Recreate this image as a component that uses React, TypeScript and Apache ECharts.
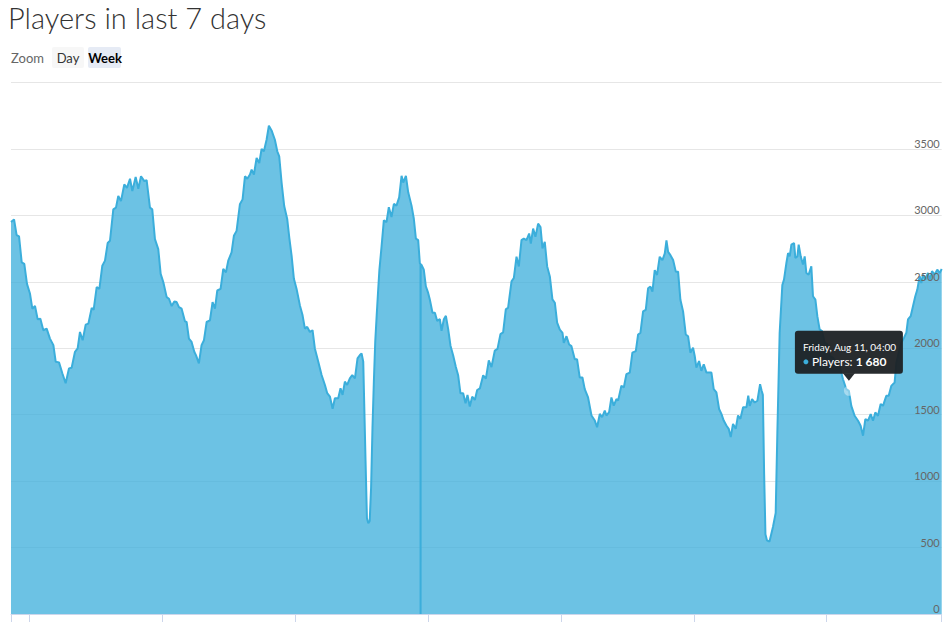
import React, { useEffect, useRef } from "react";
import * as echarts from "echarts";

// ---- data ----
// readings: minutes after Fri/Sat midnight, Aug 5 2023 00:00 (UTC), and player counts
const base = Date.UTC(2023, 7, 5, 0, 0);
const MIN = 60 * 1000;
const axisStartMin = -195; // Aug 4 20:45
const axisEndMin = 9885; // Aug 11 20:45

const minutes: number[] = [
  -195, -162, -134, -108, -79, -51, -22, 11, 36, 65, 94, 123, 155, 191, 227, 264, 289, 325, 361, 397,
  433, 462, 498, 527, 552, 581, 614, 643, 679, 700, 733, 762, 794, 823, 852, 877, 913, 942, 967, 996,
  1032, 1061, 1094, 1119, 1155, 1184, 1213, 1249, 1274, 1310, 1335, 1364, 1400, 1426, 1455, 1491, 1516, 1545, 1574, 1599,
  1624, 1653, 1689, 1707, 1732, 1761, 1790,
  1808, 1840, 1869, 1895, 1924, 1960, 1988, 2014, 2039, 2075, 2104, 2133, 2158, 2194, 2219, 2248, 2284, 2313, 2339, 2364,
  2393, 2411, 2436, 2465, 2494, 2519, 2544, 2573, 2598, 2627, 2663, 2689, 2710, 2736, 2764, 2797, 2819, 2844, 2869, 2898,
  2934, 2963, 2988, 3013, 3042, 3071, 3096, 3133, 3169, 3205, 3230, 3259, 3288, 3313, 3349, 3374, 3396, 3421, 3446, 3475,
  3501, 3530, 3558, 3584, 3602, 3620,
  3645, 3660, 3675, 3690, 3705, 3720, 3735, 3750, 3765, 3780, 3795,
  3818, 3843, 3872, 3897, 3926, 3952, 3980, 4009, 4035, 4053, 4082, 4107, 4143, 4168, 4190, 4215, 4233, 4240, 4241, 4242,
  4251, 4276, 4298, 4323, 4341, 4370, 4396, 4421, 4450, 4468, 4493, 4515, 4540, 4565, 4594, 4623, 4648, 4673, 4702, 4728,
  4749, 4774, 4800, 4829, 4854, 4883, 4919, 4948, 4980, 5009, 5045, 5074, 5106, 5135, 5164, 5189, 5226, 5251, 5280, 5305,
  5334, 5359, 5388, 5417, 5435, 5460, 5485, 5514, 5540, 5561, 5586, 5612, 5641, 5669, 5695, 5720,
  5749, 5778, 5792, 5821, 5850, 5875, 5911, 5936, 5965, 5994, 6019, 6055, 6092, 6128, 6153, 6182, 6207, 6236, 6254, 6283,
  6308, 6333, 6362, 6380, 6416, 6442, 6470, 6507, 6535, 6572, 6597, 6622, 6651, 6680, 6705, 6730, 6752, 6777, 6802, 6831,
  6860, 6886, 6904, 6922, 6947, 6976, 7005, 7030, 7055, 7084, 7113, 7138, 7163, 7192, 7210, 7228, 7257, 7282, 7308, 7337,
  7365, 7391, 7416, 7445, 7474, 7499, 7524, 7553, 7578, 7600, 7625, 7654, 7679, 7705, 7734, 7770, 7790,
  7806, 7831, 7860, 7889, 7918, 7935, 7948, 7962, 7976, 7992, 8020, 8058, 8087, 8105, 8130, 8159, 8177, 8203, 8221, 8239,
  8257, 8286, 8300, 8322, 8336, 8358, 8383, 8401, 8419, 8444, 8473, 8491, 8517, 8538, 8563, 8589, 8618, 8646, 8672, 8708,
  8744, 8780, 8816, 8852, 8880, 8906, 8942, 8979, 9007, 9033, 9058, 9087, 9116, 9141, 9166, 9195, 9224, 9249, 9285, 9311,
  9339, 9375, 9394, 9419, 9448, 9477, 9502, 9520, 9549, 9574, 9599, 9621, 9646, 9664, 9682, 9708, 9736, 9758, 9780, 9809,
  9837, 9863, 9885,
];

const counts: number[] = [
  2950, 2970, 2852, 2842, 2647, 2635, 2485, 2410, 2298, 2318, 2218, 2223, 2136, 2148, 2073, 2024, 1899, 1894, 1812, 1737,
  1849, 1854, 1974, 1999, 2123, 2061, 2178, 2186, 2303, 2290, 2460, 2447, 2622, 2660, 2792, 2809, 3046, 3059, 3146, 3108,
  3233, 3208, 3276, 3183, 3290, 3201, 3295, 3258, 3266, 3059, 3046, 2822, 2747, 2560, 2497, 2385, 2373, 2318, 2353, 2348,
  2310, 2298, 2203, 2198, 2073, 2048, 1974,
  1949, 1886, 2024, 2061, 2198, 2211, 2348, 2298, 2435, 2447, 2597, 2572, 2660, 2722, 2847, 2884, 3084, 3121, 3295, 3276,
  3308, 3345, 3308, 3433, 3395, 3500, 3483, 3570, 3675, 3640, 3570, 3483, 3445, 3246, 3071, 2971, 2834, 2697, 2523, 2447,
  2323, 2248, 2148, 2161, 2123, 2136, 1999, 1899, 1799, 1724, 1662, 1637, 1545, 1624, 1624, 1699, 1649, 1749, 1724, 1774,
  1799, 1774, 1924, 1949, 1961, 1900,
  1150, 720, 683, 700, 950, 1400, 1750, 2050, 2240, 2420, 2590,
  2764, 2963, 2950, 3062, 2988, 3087, 3074, 3136, 3298, 3248, 3298, 3174, 3074, 2975, 2826, 2814, 2640, 2635, 0, 2632,
  2628, 2591, 2467, 2417, 2368, 2268, 2268, 2206, 2219, 2132, 2219, 2244, 2144, 2020, 1946, 1859, 1797, 1661, 1661, 1586,
  1648, 1562, 1636, 1611, 1686, 1698, 1797, 1772, 1909, 1859, 1983, 1996, 2107, 2120, 2293, 2306, 2504, 2529, 2690, 2616,
  2814, 2826, 2814, 2864, 2789, 2901, 2839, 2938, 2913, 2752, 2802, 2616, 2541, 2368, 2343, 2194,
  2140, 2116, 2041, 2091, 2029, 2016, 1917, 1917, 1780, 1780, 1693, 1630, 1494, 1456, 1406, 1506, 1481, 1531, 1494, 1519,
  1630, 1568, 1618, 1606, 1718, 1705, 1805, 1817, 1967, 1979, 2104, 2116, 2278, 2290, 2452, 2465, 2427, 2589, 2552, 2689,
  2664, 2714, 2813, 2726, 2701, 2664, 2577, 2577, 2365, 2278, 2104, 2091, 1967, 2004, 1942, 1855, 1904, 1830, 1880, 1817,
  1817, 1817, 1693, 1668, 1543, 1506, 1456, 1419, 1394, 1332, 1431, 1394, 1494, 1469, 1556, 1556, 1643,
  1567, 1617, 1592, 1605, 1730, 1680, 1650, 1050, 600, 555, 545, 657, 760, 1362, 2115, 2476, 2517, 2642, 2717, 2692,
  2780, 2792, 2680, 2692, 2780, 2692, 2630, 2692, 2567, 2555, 2617, 2392, 2367, 2242, 2142, 2130, 2042, 2030, 1942, 1930,
  1892, 1867, 1767, 1692, 1680, 1567, 1492, 1455, 1417, 1342, 1467, 1455, 1505, 1455, 1517, 1492, 1580, 1567, 1642, 1642,
  1717, 1742, 1892, 1967, 2042, 2080, 2117, 2217, 2242, 2317, 2392, 2442, 2542, 2492, 2555, 2517, 2567, 2517, 2580, 2555,
  2592, 2567, 2597,
];

const yTicks: number[] = [0, 500, 1000, 1500, 2000, 2500, 3000, 3500, 4000];

const tipMinute = 8880; // Friday, Aug 11, 04:00
const tipValue = 1680;

const seriesColor = "#3baedb";
const FONT = "Lato, 'Noto Sans', sans-serif";

const WEEKDAYS = ["Sunday", "Monday", "Tuesday", "Wednesday", "Thursday", "Friday", "Saturday"];
const MONTHS = ["Jan", "Feb", "Mar", "Apr", "May", "Jun", "Jul", "Aug", "Sep", "Oct", "Nov", "Dec"];

function fmtDate(t: number) {
  const d = new Date(t);
  const hh = String(d.getUTCHours()).padStart(2, "0");
  const mm = String(d.getUTCMinutes()).padStart(2, "0");
  return `${WEEKDAYS[d.getUTCDay()]}, ${MONTHS[d.getUTCMonth()]} ${d.getUTCDate()}, ${hh}:${mm}`;
}
function fmtNum(v: number) {
  return String(v).replace(/\B(?=(\d{3})+(?!\d))/g, " ");
}

export default function App() {
  const ref = useRef<HTMLDivElement>(null);

  useEffect(() => {
    document.body.style.margin = "0";
    document.body.style.overflow = "hidden";
    const el = ref.current!;
    const chart = echarts.init(el, undefined, { renderer: "svg" });

    const n = Math.min(minutes.length, counts.length);
    const data: [number, number][] = [];
    for (let i = 0; i < n; i++) data.push([base + minutes[i] * MIN, counts[i]]);
    data.sort((a, b) => a[0] - b[0]);

    const yBase = {
      type: "value",
      position: "right",
      min: yTicks[0],
      max: yTicks[yTicks.length - 1],
      interval: 500,
      axisLine: { show: false },
      axisTick: { show: false },
    };

    chart.setOption({
      animation: false,
      useUTC: true,
      grid: { left: 11, right: 8.3, top: 82.6, bottom: 8, containLabel: false },
      xAxis: {
        type: "time",
        min: base + axisStartMin * MIN,
        max: base + axisEndMin * MIN,
        minInterval: 24 * 60 * MIN,
        maxInterval: 24 * 60 * MIN,
        axisLine: { show: true, lineStyle: { color: "#ccd6eb", width: 1 } },
        axisTick: { show: true, length: 10, lineStyle: { color: "#ccd6eb" } },
        axisLabel: { show: false },
        splitLine: { show: false },
      },
      yAxis: [
        {
          ...yBase,
          splitLine: { show: true, lineStyle: { color: "#e6e6e6", width: 1 } },
          axisLabel: { show: false },
        },
        {
          ...yBase,
          z: 20,
          splitLine: { show: false },
          axisLabel: {
            inside: true,
            showMaxLabel: false,
            align: "right",
            verticalAlign: "bottom",
            margin: 2,
            color: "#666666",
            fontSize: 11,
            fontFamily: FONT,
            formatter: (v: number) => String(v),
          },
        },
      ],
      series: [
        {
          type: "line",
          name: "Players",
          yAxisIndex: 0,
          data,
          showSymbol: false,
          symbol: "none",
          lineStyle: { color: seriesColor, width: 2 },
          itemStyle: { color: seriesColor },
          areaStyle: { color: seriesColor, opacity: 0.75 },
        },
      ],
    });

    const tipTime = base + tipMinute * MIN;
    const [px, py] = chart.convertToPixel({ seriesIndex: 0 }, [tipTime, tipValue]) as number[];

    chart.setOption({
      graphic: [
        {
          type: "text",
          left: 8,
          top: 3,
          style: {
            text: "Players in last 7 days",
            fontSize: 29,
            fontWeight: 300,
            fontFamily: FONT,
            fill: "#333333",
          },
        },
        {
          type: "text",
          x: 11,
          y: 58,
          style: { text: "Zoom", fontSize: 13, fontFamily: FONT, fill: "#666666", verticalAlign: "middle" },
        },
        {
          type: "rect",
          shape: { x: 52, y: 47, width: 32, height: 21, r: 2 },
          style: { fill: "#f7f7f7" },
        },
        {
          type: "text",
          x: 68,
          y: 58,
          style: { text: "Day", fontSize: 13, fontFamily: FONT, fill: "#333333", align: "center", verticalAlign: "middle" },
        },
        {
          type: "rect",
          shape: { x: 88, y: 47, width: 33, height: 21, r: 2 },
          style: { fill: "#e6ebf5" },
        },
        {
          type: "text",
          x: 105,
          y: 58,
          style: { text: "Week", fontSize: 13, fontWeight: "bold", fontFamily: FONT, fill: "#000000", align: "center", verticalAlign: "middle" },
        },
        // hover halo
        {
          type: "circle",
          shape: { cx: px, cy: py, r: 5 },
          style: { fill: "rgba(255,255,255,0.4)" },
          z: 100,
        },
        // tooltip
        {
          type: "rect",
          shape: { x: px - 54, y: py - 60, width: 108, height: 43, r: 3 },
          style: { fill: "rgba(28,33,36,0.95)" },
          z: 100,
        },
        {
          type: "polygon",
          shape: { points: [[px - 6, py - 17.5], [px + 6, py - 17.5], [px, py - 10]] },
          style: { fill: "rgba(28,33,36,0.95)" },
          z: 100,
        },
        {
          type: "text",
          x: px - 46,
          y: py - 44,
          z: 101,
          style: { text: fmtDate(tipTime), fontSize: 10, fontFamily: FONT, fill: "#ffffff", verticalAlign: "middle" },
        },
        {
          type: "circle",
          shape: { cx: px - 43, cy: py - 29, r: 2.5 },
          style: { fill: seriesColor },
          z: 101,
        },
        {
          type: "text",
          x: px - 37,
          y: py - 29,
          z: 101,
          style: {
            text: `{a|Players: }{b|${fmtNum(tipValue)}}`,
            verticalAlign: "middle",
            rich: {
              a: { fontSize: 12, fontFamily: FONT, fill: "#ffffff", color: "#ffffff" },
              b: { fontSize: 12, fontFamily: FONT, fontWeight: "bold", fill: "#ffffff", color: "#ffffff" },
            },
          },
        },
      ],
    });

    return () => chart.dispose();
  }, []);

  return <div ref={ref} style={{ width: 950, height: 622 }} />;
}
